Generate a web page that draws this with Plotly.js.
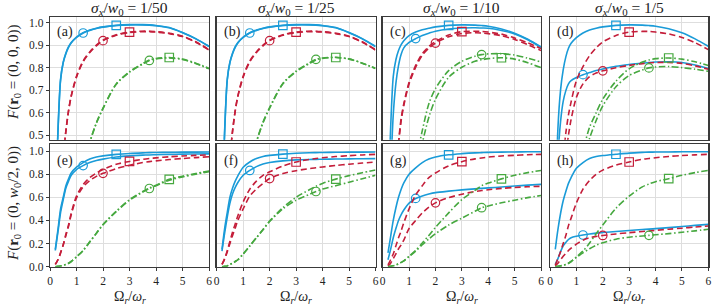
<!DOCTYPE html>
<html><head><meta charset="utf-8">
<script src="https://cdn.plot.ly/plotly-3.0.1.min.js"></script>
<style>html,body{margin:0;padding:0;background:#fff}#chart{width:715px;height:307px}</style>
</head><body><div id="chart"></div>
<script>
// Common sampling grid of Omega_r / omega_r
const xGrid = [0.2,0.3,0.4,0.5,0.6,0.7,0.8,1.0,1.25,1.5,1.75,2.0,2.5,3.0,3.5,3.75,4.0,4.5,5.0,5.5,6.0];
// marker abscissae (circle curves / square curves) for blue, red, green
const circleMarkX = [1.25, 2.0, 3.75];
const squareMarkX = [2.5, 3.0, 4.5];
const colTitles = ['1/50','1/25','1/10','1/5'];
const panelLabels = ['(a)','(b)','(c)','(d)','(e)','(f)','(g)','(h)'];
const xTicks = [0,1,2,3,4,5,6];
const yTicksTop = [0.5,0.6,0.7,0.8,0.9,1.0];
const yTicksBottom = [0,0.2,0.4,0.6,0.8,1.0];

// ---- top row: F(r0=(0,0,0)) ----
const a_blueCi = [0.09,0.51,0.745,0.822,0.862,0.89,0.91,0.934,0.954,0.965,0.974,0.98,0.987,0.99,0.99,0.989,0.986,0.977,0.955,0.928,0.894];
const a_blueSq = [0.10,0.52,0.75,0.825,0.865,0.893,0.912,0.936,0.955,0.967,0.975,0.981,0.988,0.991,0.991,0.99,0.987,0.978,0.956,0.929,0.895];
const a_redCi  = [0.0,0.1,0.25,0.40,0.518,0.607,0.672,0.758,0.826,0.867,0.897,0.92,0.944,0.956,0.96,0.96,0.958,0.951,0.938,0.913,0.878];
const a_redSq  = [0.0,0.1,0.25,0.40,0.52,0.61,0.675,0.762,0.83,0.87,0.9,0.922,0.946,0.958,0.962,0.962,0.96,0.953,0.94,0.915,0.88];
const a_grnCi  = [0.01,0.03,0.05,0.08,0.11,0.15,0.19,0.27,0.37,0.468,0.553,0.618,0.726,0.78,0.816,0.832,0.839,0.843,0.836,0.818,0.795];
const a_grnSq  = [0.01,0.03,0.05,0.08,0.11,0.15,0.19,0.27,0.37,0.47,0.555,0.62,0.728,0.782,0.818,0.834,0.841,0.845,0.838,0.82,0.797];

const b_blueCi = [0.09,0.51,0.745,0.822,0.862,0.89,0.91,0.934,0.954,0.965,0.974,0.98,0.987,0.99,0.99,0.989,0.986,0.977,0.955,0.928,0.893];
const b_blueSq = [0.10,0.52,0.75,0.825,0.865,0.893,0.912,0.936,0.955,0.967,0.975,0.981,0.988,0.991,0.991,0.99,0.987,0.978,0.956,0.929,0.895];
const b_redCi  = [0.0,0.1,0.25,0.40,0.518,0.607,0.672,0.758,0.826,0.867,0.897,0.92,0.944,0.956,0.96,0.96,0.958,0.951,0.938,0.913,0.878];
const b_redSq  = [0.0,0.1,0.25,0.40,0.52,0.61,0.675,0.762,0.83,0.87,0.9,0.922,0.946,0.958,0.962,0.962,0.96,0.953,0.94,0.915,0.88];
const b_grnCi  = [0.01,0.03,0.05,0.08,0.11,0.15,0.19,0.27,0.372,0.472,0.558,0.623,0.73,0.785,0.821,0.837,0.843,0.846,0.839,0.82,0.797];
const b_grnSq  = [0.01,0.03,0.05,0.08,0.11,0.15,0.19,0.27,0.37,0.47,0.555,0.62,0.728,0.782,0.818,0.834,0.841,0.845,0.838,0.82,0.796];

const c_blueCi = [0.05,0.33,0.59,0.73,0.81,0.86,0.888,0.912,0.929,0.943,0.953,0.962,0.972,0.976,0.977,0.976,0.975,0.965,0.95,0.924,0.89];
const c_blueSq = [0.15,0.53,0.76,0.835,0.876,0.902,0.92,0.942,0.958,0.968,0.975,0.981,0.988,0.99,0.989,0.987,0.984,0.972,0.953,0.926,0.892];
const c_redCi  = [0.0,0.05,0.17,0.33,0.46,0.565,0.632,0.728,0.802,0.855,0.887,0.909,0.937,0.952,0.955,0.954,0.951,0.942,0.925,0.902,0.876];
const c_redSq  = [0.0,0.05,0.18,0.34,0.47,0.575,0.64,0.735,0.81,0.862,0.894,0.916,0.945,0.96,0.962,0.961,0.958,0.949,0.932,0.91,0.885];
const c_grnCi  = [0.01,0.02,0.04,0.06,0.09,0.12,0.16,0.25,0.38,0.52,0.64,0.707,0.787,0.828,0.851,0.858,0.861,0.862,0.856,0.842,0.825];
const c_grnSq  = [0.01,0.02,0.03,0.05,0.08,0.11,0.15,0.23,0.34,0.465,0.58,0.66,0.757,0.802,0.828,0.835,0.84,0.844,0.838,0.822,0.8];

const d_blueCi = [0.1,0.4,0.56,0.65,0.698,0.728,0.742,0.756,0.769,0.778,0.787,0.794,0.806,0.814,0.82,0.823,0.825,0.826,0.823,0.812,0.796];
const d_blueSq = [0.15,0.53,0.7,0.79,0.848,0.886,0.908,0.933,0.954,0.967,0.975,0.981,0.988,0.99,0.989,0.987,0.984,0.973,0.955,0.928,0.895];
const d_redCi  = [0.0,0.05,0.15,0.28,0.41,0.5,0.57,0.668,0.728,0.76,0.776,0.786,0.8,0.81,0.818,0.821,0.823,0.823,0.819,0.808,0.793];
const d_redSq  = [0.0,0.08,0.23,0.39,0.51,0.59,0.648,0.742,0.805,0.853,0.888,0.914,0.943,0.958,0.961,0.961,0.958,0.95,0.934,0.911,0.88];
const d_grnCi  = [0.01,0.02,0.03,0.05,0.07,0.1,0.14,0.25,0.38,0.486,0.565,0.63,0.715,0.765,0.79,0.799,0.803,0.805,0.8,0.793,0.784];
const d_grnSq  = [0.01,0.02,0.04,0.06,0.09,0.13,0.18,0.3,0.43,0.535,0.6,0.66,0.74,0.795,0.825,0.834,0.84,0.843,0.838,0.826,0.81];

// ---- bottom row: F(r0=(0,w0/2,0)) ----
const e_blueCi = [0.14,0.3,0.47,0.58,0.68,0.74,0.79,0.84,0.874,0.9,0.918,0.93,0.948,0.958,0.964,0.966,0.968,0.971,0.973,0.974,0.975];
const e_blueSq = [0.15,0.32,0.5,0.6,0.7,0.76,0.81,0.86,0.9,0.93,0.948,0.958,0.971,0.979,0.984,0.986,0.987,0.989,0.99,0.99,0.991];
const e_redCi  = [0.02,0.06,0.12,0.19,0.27,0.35,0.45,0.595,0.69,0.745,0.781,0.807,0.848,0.877,0.9,0.908,0.915,0.926,0.935,0.943,0.95];
const e_redSq  = [0.02,0.06,0.12,0.19,0.28,0.36,0.46,0.61,0.71,0.77,0.81,0.84,0.885,0.91,0.928,0.935,0.941,0.95,0.957,0.962,0.966];
const e_grnCi  = [0.0,0.003,0.006,0.012,0.02,0.03,0.045,0.085,0.14,0.213,0.288,0.362,0.476,0.575,0.645,0.676,0.7,0.748,0.776,0.8,0.822];
const e_grnSq  = [0.0,0.003,0.006,0.012,0.02,0.03,0.045,0.085,0.14,0.215,0.29,0.365,0.48,0.58,0.65,0.68,0.705,0.755,0.782,0.805,0.827];

const f_blueCi = [0.135,0.29,0.43,0.55,0.63,0.685,0.728,0.79,0.832,0.865,0.887,0.9,0.915,0.923,0.927,0.928,0.929,0.931,0.932,0.933,0.934];
const f_blueSq = [0.15,0.33,0.47,0.6,0.68,0.74,0.786,0.86,0.905,0.935,0.953,0.962,0.973,0.98,0.985,0.986,0.987,0.989,0.99,0.99,0.991];
const f_redCi  = [0.02,0.065,0.13,0.2,0.27,0.335,0.4,0.5,0.61,0.672,0.72,0.762,0.805,0.83,0.848,0.855,0.862,0.875,0.886,0.896,0.905];
const f_redSq  = [0.02,0.07,0.14,0.22,0.3,0.37,0.44,0.56,0.67,0.74,0.79,0.82,0.87,0.905,0.927,0.935,0.942,0.952,0.96,0.966,0.971];
const f_grnCi  = [0.0,0.003,0.007,0.02,0.03,0.045,0.06,0.11,0.18,0.25,0.32,0.39,0.5,0.575,0.625,0.65,0.672,0.7,0.73,0.76,0.79];
const f_grnSq  = [0.0,0.003,0.007,0.02,0.03,0.045,0.06,0.11,0.18,0.25,0.322,0.395,0.51,0.6,0.665,0.695,0.72,0.757,0.787,0.812,0.836];

const g_blueCi = [0.06,0.15,0.25,0.33,0.4,0.45,0.49,0.55,0.59,0.612,0.628,0.64,0.653,0.664,0.673,0.677,0.681,0.689,0.697,0.705,0.712];
const g_blueSq = [0.12,0.26,0.4,0.51,0.6,0.67,0.725,0.8,0.855,0.9,0.93,0.948,0.967,0.977,0.984,0.986,0.988,0.99,0.992,0.993,0.994];
const g_redCi  = [0.006,0.03,0.07,0.11,0.155,0.19,0.23,0.33,0.4,0.465,0.515,0.552,0.597,0.627,0.65,0.658,0.665,0.677,0.685,0.691,0.695];
const g_redSq  = [0.015,0.06,0.11,0.18,0.25,0.31,0.38,0.5,0.62,0.7,0.77,0.81,0.872,0.908,0.932,0.94,0.948,0.957,0.963,0.968,0.971];
const g_grnCi  = [0.0,0.003,0.008,0.015,0.025,0.037,0.05,0.088,0.135,0.19,0.24,0.285,0.36,0.42,0.48,0.51,0.525,0.552,0.575,0.597,0.615];
const g_grnSq  = [0.0,0.003,0.008,0.015,0.025,0.037,0.05,0.09,0.14,0.205,0.27,0.34,0.465,0.58,0.66,0.7,0.723,0.759,0.79,0.813,0.832];

const h_blueCi = [0.02,0.07,0.13,0.18,0.21,0.235,0.25,0.263,0.274,0.283,0.29,0.295,0.304,0.313,0.321,0.325,0.329,0.338,0.347,0.357,0.366];
const h_blueSq = [0.15,0.32,0.46,0.57,0.65,0.72,0.77,0.85,0.9,0.935,0.952,0.961,0.972,0.982,0.988,0.99,0.991,0.992,0.993,0.994,0.994];
const h_redCi  = [0.006,0.03,0.06,0.09,0.115,0.14,0.16,0.195,0.228,0.25,0.262,0.27,0.283,0.294,0.304,0.309,0.314,0.324,0.333,0.343,0.352];
const h_redSq  = [0.012,0.07,0.13,0.2,0.27,0.355,0.42,0.55,0.67,0.745,0.8,0.835,0.878,0.905,0.928,0.935,0.942,0.953,0.961,0.967,0.971];
const h_grnCi  = [0.0,0.003,0.007,0.013,0.02,0.03,0.045,0.08,0.12,0.155,0.185,0.207,0.238,0.255,0.266,0.271,0.276,0.286,0.298,0.31,0.323];
const h_grnSq  = [0.0,0.003,0.007,0.013,0.02,0.03,0.045,0.085,0.135,0.205,0.285,0.36,0.505,0.61,0.69,0.715,0.735,0.761,0.79,0.813,0.833];

const panels = [
  [a_blueCi,a_blueSq,a_redCi,a_redSq,a_grnCi,a_grnSq],
  [b_blueCi,b_blueSq,b_redCi,b_redSq,b_grnCi,b_grnSq],
  [c_blueCi,c_blueSq,c_redCi,c_redSq,c_grnCi,c_grnSq],
  [d_blueCi,d_blueSq,d_redCi,d_redSq,d_grnCi,d_grnSq],
  [e_blueCi,e_blueSq,e_redCi,e_redSq,e_grnCi,e_grnSq],
  [f_blueCi,f_blueSq,f_redCi,f_redSq,f_grnCi,f_grnSq],
  [g_blueCi,g_blueSq,g_redCi,g_redSq,g_grnCi,g_grnSq],
  [h_blueCi,h_blueSq,h_redCi,h_redSq,h_grnCi,h_grnSq]
];

const COLORS = ['#1a9bd8','#c41e3a','#46a83f'];
const DASHES = ['solid','6px,3.5px','6.5px,2.5px,1.5px,2.5px'];
const SERIF = 'Liberation Serif, DejaVu Serif, serif';
const W = 715, H = 307;
const colPx = [[50,209],[216.7,375.5],[382.7,541],[550,708.3]];
const rowPx = [[17,139.7],[144.3,266.7]];

const traces = [];
const layout = {
  width: W, height: H, margin: {l:0,r:0,t:0,b:0},
  paper_bgcolor:'#fff', plot_bgcolor:'#fff', showlegend:false,
  annotations: []
};

for (let p = 0; p < 8; p++) {
  const row = Math.floor(p/4), col = p % 4;
  const sfx = p === 0 ? '' : String(p+1);
  const xa = 'x'+sfx, ya = 'y'+sfx;
  const d = panels[p];
  for (let c = 0; c < 3; c++) {
    for (let v = 0; v < 2; v++) {
      const ys = d[2*c+v];
      traces.push({x: xGrid, y: ys, xaxis: xa, yaxis: ya, mode: 'lines', type: 'scatter',
        line: {color: COLORS[c], width: 1.6, dash: DASHES[c], shape: 'spline', smoothing: 0.8},
        hoverinfo: 'skip'});
      const mx = v === 0 ? circleMarkX[c] : squareMarkX[c];
      const idx = xGrid.indexOf(mx);
      traces.push({x: [mx], y: [ys[idx]], xaxis: xa, yaxis: ya, mode: 'markers', type: 'scatter',
        marker: {symbol: v === 0 ? 'circle-open' : 'square-open', size: 8.5, color: COLORS[c], line: {width: 1.2, color: COLORS[c]}},
        hoverinfo: 'skip', cliponaxis: false});
    }
  }
  const axBase = {showline: true, mirror: true, linecolor: '#3a3a3a', linewidth: 1.3,
    showgrid: true, gridcolor: '#dedede', gridwidth: 1, zeroline: false,
    tickfont: {family: SERIF, size: 11.5, color: '#222'}, ticklen: 3, tickcolor: '#3a3a3a', tickwidth: 1};
  layout['xaxis'+sfx] = Object.assign({}, axBase, {
    domain: [colPx[col][0]/W, colPx[col][1]/W], range: [0,6], anchor: ya,
    tickmode: 'array', tickvals: xTicks, ticktext: xTicks.map(String),
    showticklabels: row === 1, ticks: row === 1 ? 'outside' : ''});
  const yt = row === 0 ? yTicksTop : yTicksBottom;
  layout['yaxis'+sfx] = Object.assign({}, axBase, {
    domain: [(H-rowPx[row][1])/H, (H-rowPx[row][0])/H], range: row === 0 ? [0.48,1.025] : [0,1.058], anchor: xa,
    tickmode: 'array', tickvals: yt, ticktext: yt.map(v => v.toFixed(1)),
    showticklabels: col === 0, ticks: col === 0 ? 'outside' : ''});
  layout.annotations.push({xref: xa, yref: ya, x: 0.2, y: row === 0 ? 0.96 : 0.91, xanchor: 'left', yanchor: 'middle',
    text: panelLabels[p], showarrow: false, font: {family: SERIF, size: 14, color: '#222'}});
}

for (let col = 0; col < 4; col++) {
  const cx = (colPx[col][0]+colPx[col][1])/2/W;
  layout.annotations.push({xref:'paper', yref:'paper', x: cx, y: (H-8)/H, xanchor:'center', yanchor:'middle', showarrow:false,
    text: '<i>σ<sub>x</sub></i>/<i>w</i><sub>0</sub> = ' + colTitles[col], font:{family: SERIF, size: 15.5, color:'#222'}});
  layout.annotations.push({xref:'paper', yref:'paper', x: cx, y: 0, xanchor:'center', yanchor:'bottom', showarrow:false, borderpad: 0,
    text: 'Ω<sub><i>r</i></sub>/<i>ω<sub>r</sub></i>', font:{family: SERIF, size: 14, color:'#222'}});
}
layout.annotations.push({xref:'paper', yref:'paper', x: 14/W, y: (H-72)/H, textangle: -90, xanchor:'center', yanchor:'middle', showarrow:false,
  text: '<i>F</i>(<b>r</b><sub>0</sub> = (0, 0, 0))', font:{family: SERIF, size: 15, color:'#222'}});
layout.annotations.push({xref:'paper', yref:'paper', x: 14/W, y: (H-204)/H, textangle: -90, xanchor:'center', yanchor:'middle', showarrow:false,
  text: '<i>F</i>(<b>r</b><sub>0</sub> = (0, <i>w</i><sub>0</sub>/2, 0))', font:{family: SERIF, size: 15, color:'#222'}});

Plotly.newPlot('chart', traces, layout, {staticPlot: true, displayModeBar: false});
</script>
</body></html>
